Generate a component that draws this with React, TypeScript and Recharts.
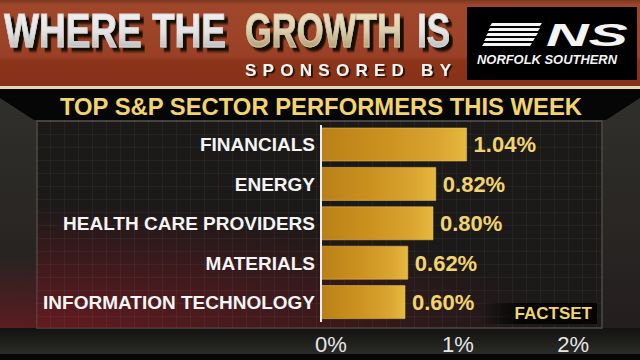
import React from "react";
import { BarChart, Bar, XAxis, YAxis, ReferenceLine, LabelList } from "recharts";

// weekly change by sector, percent
const SECTORS = [
  "FINANCIALS",
  "ENERGY",
  "HEALTH CARE PROVIDERS",
  "MATERIALS",
  "INFORMATION TECHNOLOGY",
];
const WEEK_CHANGE = [1.04, 0.82, 0.8, 0.62, 0.6];
const PCT_TICKS = [0, 1, 2];

const rows = SECTORS.map((sector, i) => ({ sector, change: WEEK_CHANGE[i] }));

const FONT = '"Liberation Sans", Arial, Helvetica, sans-serif';
const GOLD_TEXT = "#f2d46c";
const HEAD_SQUEEZE = 0.76;

function PctTick(props: any) {
  const { x, y, payload, index } = props;
  const last = index === PCT_TICKS.length - 1;
  const anchor = index === 0 ? "start" : last ? "end" : "middle";
  const dx = index === 0 ? -6 : last ? -12 : -3;
  return (
    <text
      x={x}
      y={y}
      dx={dx}
      dy="0.71em"
      textAnchor={anchor}
      fill="#e6e6e6"
      fontSize={22}
      fontFamily={FONT}
    >
      {payload.value}%
    </text>
  );
}

// one word group of the big header, condensed with a horizontal scale
function HeadWord({ x, w, text, fill, stroke }: any) {
  return (
    <g transform={`translate(${x} 47) scale(${HEAD_SQUEEZE} 1)`} filter="url(#bigShadow)">
      <text
        x={0}
        y={0}
        fontSize={48}
        fontWeight={700}
        fontFamily={FONT}
        textLength={w / HEAD_SQUEEZE}
        lengthAdjust="spacingAndGlyphs"
        fill={fill}
        stroke={stroke}
        strokeWidth={0.9}
      >
        {text}
      </text>
    </g>
  );
}

function Backdrop() {
  return (
    <svg width={640} height={360} style={{ position: "absolute", left: 0, top: 0 }}>
      <defs>
        <linearGradient id="hdr" x1="0" y1="0" x2="0" y2="1">
          <stop offset="0" stopColor="#7a3820" />
          <stop offset="0.06" stopColor="#a0472b" />
          <stop offset="0.65" stopColor="#9a4026" />
          <stop offset="0.7" stopColor="#8c3419" />
          <stop offset="1" stopColor="#86311a" />
        </linearGradient>
        <linearGradient id="silver" x1="0" y1="0" x2="0" y2="1">
          <stop offset="0" stopColor="#f6f6f6" />
          <stop offset="0.55" stopColor="#e2e2e2" />
          <stop offset="1" stopColor="#a9a9a9" />
        </linearGradient>
        <linearGradient id="beige" x1="0" y1="0" x2="0" y2="1">
          <stop offset="0" stopColor="#f4ecd6" />
          <stop offset="0.5" stopColor="#dccfae" />
          <stop offset="1" stopColor="#9c8458" />
        </linearGradient>
        <linearGradient id="side" x1="0" y1="0" x2="0" y2="1">
          <stop offset="0" stopColor="#30302c" />
          <stop offset="1" stopColor="#221c1c" />
        </linearGradient>
        <linearGradient id="foot" x1="0" y1="0" x2="0" y2="1">
          <stop offset="0" stopColor="#121210" />
          <stop offset="1" stopColor="#2a2c27" />
        </linearGradient>
        <radialGradient id="glow" cx="0" cy="1" r="1" gradientTransform="scale(0.9 0.6) translate(0 0.66)">
          <stop offset="0" stopColor="#7a1c22" stopOpacity="0.75" />
          <stop offset="1" stopColor="#7a1c22" stopOpacity="0" />
        </radialGradient>
        <pattern id="grid" x="37" y="122" width="14" height="13" patternUnits="userSpaceOnUse">
          <path d="M14 0 V13 M0 13 H14" stroke="rgba(255,255,255,0.08)" strokeWidth="1" fill="none" />
        </pattern>
        <filter id="bigShadow" x="-5%" y="-20%" width="120%" height="150%">
          <feDropShadow dx="5" dy="4" stdDeviation="0.8" floodColor="#140806" floodOpacity="1" />
        </filter>
        <filter id="smallShadow" x="-5%" y="-20%" width="115%" height="160%">
          <feDropShadow dx="2" dy="1.5" stdDeviation="0.6" floodColor="#1a0a06" floodOpacity="0.9" />
        </filter>
      </defs>

      {/* lower body */}
      <rect x={0} y={89} width={640} height={271} fill="url(#side)" />
      <rect x={0} y={200} width={300} height={140} fill="url(#glow)" />
      <rect x={0} y={328} width={640} height={26} fill="url(#foot)" />
      <rect x={0} y={354} width={640} height={6} fill="#070707" />

      {/* chart box */}
      <rect x={37} y={121} width={565} height={207} fill="#1c1919" stroke="#4e4a46" strokeWidth={1.5} />
      <rect x={37} y={121} width={565} height={207} fill="url(#glow)" />
      <rect x={37} y={121} width={565} height={207} fill="url(#grid)" />

      {/* title strip */}
      <polygon points="0,89 640,89 640,98 606,120 34,120 0,98" fill="#060606" />
      <text x={321} y={115} textAnchor="middle" fill={GOLD_TEXT} fontSize={23} fontWeight={700} fontFamily={FONT} textLength={522} lengthAdjust="spacingAndGlyphs">
        TOP S&amp;P SECTOR PERFORMERS THIS WEEK
      </text>

      {/* header */}
      <rect x={0} y={0} width={640} height={87} fill="url(#hdr)" />
      <rect x={0} y={86} width={640} height={3} fill="#e4d8ae" />
      <HeadWord x={4} w={222} text="WHERE THE" fill="url(#silver)" stroke="#d8d8d8" />
      <HeadWord x={245} w={157} text="GROWTH" fill="url(#beige)" stroke="#d6c8a4" />
      <HeadWord x={417} w={33} text="IS" fill="url(#silver)" stroke="#d8d8d8" />
      <text x={245} y={76} fill="#f4f4f4" fontSize={17} fontWeight={700} fontFamily={FONT} textLength={206} lengthAdjust="spacing" filter="url(#smallShadow)">
        SPONSORED BY
      </text>

      {/* sponsor logo */}
      <rect x={467} y={7} width={170} height={73} fill="#000" />
      <g fill="#f4f4f4">
        <polygon points="492,23 542,23 540,26 490,26" />
        <polygon points="490,28 540,28 538,31 488,31" />
        <polygon points="488,33 538,33 536,36 486,36" />
        <polygon points="486,38 535,38 533,41 484,41" />
        <polygon points="484,43 532,43 530,46 482,46" />
      </g>
      <text x={546} y={46} fill="#f4f4f4" fontSize={31} fontWeight={700} fontStyle="italic" fontFamily={FONT} textLength={82} lengthAdjust="spacingAndGlyphs">
        NS
      </text>
      <text x={477} y={64} fill="#f4f4f4" fontSize={12} fontWeight={700} fontStyle="italic" fontFamily={FONT} textLength={140} lengthAdjust="spacingAndGlyphs">
        NORFOLK SOUTHERN
      </text>
    </svg>
  );
}

export default function App() {
  return (
    <div
      style={{
        position: "fixed",
        left: 0,
        top: 0,
        width: 640,
        height: 360,
        overflow: "hidden",
        background: "#000",
        fontFamily: FONT,
      }}
    >
      <Backdrop />
      <div style={{ position: "absolute", left: 0, top: 0 }}>
        <BarChart
          width={640}
          height={360}
          layout="vertical"
          data={rows}
          margin={{ top: 125, right: 39, bottom: 8, left: 36 }}
        >
          <defs>
            <linearGradient id="goldBar" x1="0" y1="0" x2="1" y2="0">
              <stop offset="0" stopColor="#b98018" />
              <stop offset="0.45" stopColor="#cc921f" />
              <stop offset="0.8" stopColor="#d9a430" />
              <stop offset="1" stopColor="#e6b93e" />
            </linearGradient>
          </defs>
          <XAxis
            type="number"
            domain={[0, 2]}
            ticks={PCT_TICKS}
            height={30}
            axisLine={false}
            tickLine={false}
            tickSize={0}
            tickMargin={14}
            tick={<PctTick />}
          />
          <YAxis
            type="category"
            dataKey="sector"
            width={285}
            interval={0}
            axisLine={false}
            tickLine={false}
            tickSize={0}
            tickMargin={6}
            tick={{ fill: "#f4f4f4", fontSize: 19, fontWeight: 700, fontFamily: FONT }}
          />
          <Bar
            dataKey="change"
            barSize={33}
            fill="url(#goldBar)"
            stroke="#e9c256"
            strokeOpacity={0.55}
            strokeWidth={1}
            isAnimationActive={false}
          >
            <LabelList
              dataKey="change"
              position="right"
              offset={7}
              formatter={(v: any) => `${Number(v).toFixed(2)}%`}
              fill={GOLD_TEXT}
              fontSize={22}
              fontWeight={700}
              fontFamily={FONT}
            />
          </Bar>
          <ReferenceLine x={0} stroke="#ececec" strokeWidth={2} ifOverflow="extendDomain" />
        </BarChart>
      </div>
      <div
        style={{
          position: "absolute",
          left: 480,
          top: 303,
          width: 117,
          height: 21,
          background: "linear-gradient(to right, rgba(0,0,0,0), #050505 35%)",
          color: GOLD_TEXT,
          fontSize: 17,
          fontWeight: 700,
          textAlign: "right",
          lineHeight: "21px",
          paddingRight: 5,
          boxSizing: "border-box",
        }}
      >
        FACTSET
      </div>
    </div>
  );
}
